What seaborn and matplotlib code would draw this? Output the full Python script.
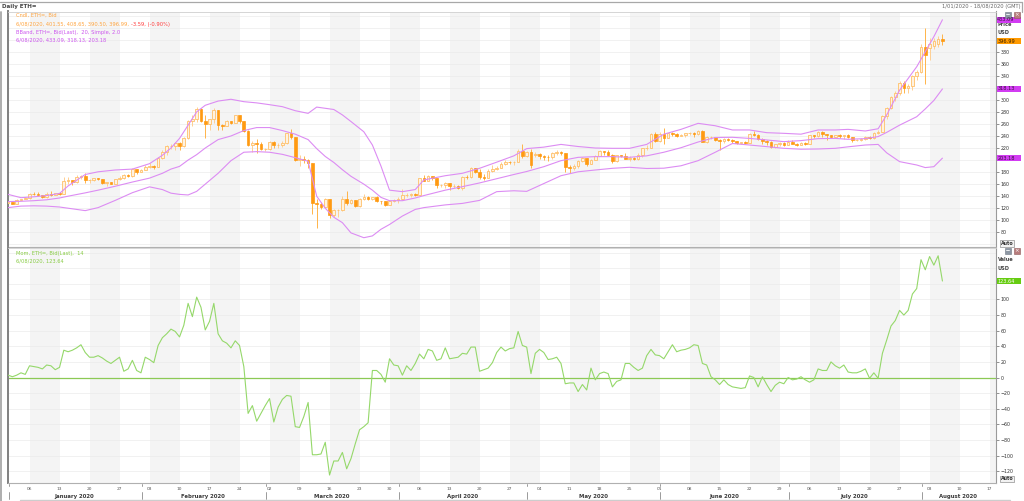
import numpy as np
import matplotlib
matplotlib.use("Agg")
import matplotlib.pyplot as plt
import matplotlib.patches as mpatches
import matplotlib.transforms as mtrans
from matplotlib.lines import Line2D
import seaborn as sns

# ---------------- data ----------------
open_ = [
    # Jan
    129.2, 130.8, 127.4, 134.2, 135.1, 136.3, 144.3, 143.5, 141.3, 138.0, 143.9, 142.2, 145.4, 144.0, 165.2, 166.3,
    163.8, 171.2, 174.0, 166.6, 166.7, 169.4, 168.0, 162.4, 162.8, 160.9, 167.9, 170.0, 175.3, 174.1, 184.7,
    # Feb
    179.9, 183.6, 188.6, 189.9, 189.0, 203.8, 212.7, 223.0, 223.4, 228.6, 222.9, 236.7, 265.2, 268.4, 285.3,
    264.9, 260.0, 267.6, 282.9, 258.8, 256.0, 265.5, 262.0, 274.4, 265.4, 248.0, 225.3, 227.6, 226.2,
    # Mar
    218.3, 218.3, 230.3, 224.5, 224.5, 228.0, 244.2, 237.7, 199.5, 202.3, 200.7, 194.8, 129.0, 127.0, 122.0,
    135.0, 108.0, 117.0, 117.3, 136.0, 128.0, 132.9, 123.0, 135.7, 138.8, 136.0, 138.9, 131.6, 131.5, 125.2, 132.4,
    # Apr
    133.6, 136.0, 141.6, 141.9, 144.1, 142.5, 169.7, 164.6, 173.2, 170.1, 158.0, 158.4, 161.1, 156.3, 157.6,
    153.3, 172.2, 171.6, 187.0, 180.6, 171.3, 171.0, 182.4, 185.0, 187.3, 194.2, 197.2, 196.6, 197.1, 215.5,
    # May
    206.6, 212.7, 208.5, 210.3, 206.8, 205.2, 204.4, 212.3, 212.6, 211.6, 188.4, 186.0, 190.2, 199.0, 203.0,
    194.0, 200.6, 207.1, 214.3, 214.0, 208.9, 198.2, 208.1, 206.8, 201.8, 204.1, 201.2, 208.6, 219.6, 220.0, 243.6,
    # Jun
    231.1, 243.5, 237.2, 244.4, 243.9, 240.7, 241.6, 244.2, 244.9, 243.3, 248.6, 230.1, 237.8, 238.2, 233.9,
    231.0, 235.6, 233.4, 231.0, 227.6, 229.7, 228.4, 243.1, 242.1, 235.5, 232.3, 229.2, 221.7, 226.0, 228.1,
    # Jul
    225.7, 229.2, 226.5, 225.0, 229.1, 227.5, 241.0, 239.2, 246.7, 242.5, 241.7, 239.0, 241.6, 239.8, 241.6,
    238.8, 232.9, 233.4, 235.8, 238.9, 236.1, 245.5, 247.0, 273.35, 287.0, 305.0, 311.0, 328.0, 320.0, 323.0, 339.0,
    # Aug
    346.0, 387.0, 386.0, 390.0, 392.0, 401.55,
]
high = [
    132.5, 130.9, 134.6, 136.0, 138.7, 144.9, 147.4, 146.5, 141.4, 146.2, 148.5, 146.0, 146.5, 171.7, 171.9, 167.3,
    174.8, 175.0, 178.0, 168.0, 169.8, 171.0, 168.5, 164.0, 163.4, 168.1, 172.8, 176.5, 177.0, 187.5, 185.5,
    184.9, 191.0, 194.5, 191.7, 205.0, 216.3, 225.0, 226.5, 229.5, 229.9, 238.6, 266.5, 275.3, 287.4, 287.0,
    275.0, 268.5, 285.8, 283.2, 260.7, 266.1, 265.7, 275.5, 275.6, 265.6, 249.5, 231.7, 234.3, 229.2,
    220.6, 232.1, 231.9, 227.9, 232.2, 244.9, 251.9, 237.8, 208.5, 206.2, 201.1, 195.6, 136.0, 129.5, 137.0,
    135.5, 119.2, 118.7, 140.5, 149.0, 135.2, 134.4, 137.2, 142.8, 140.4, 139.3, 140.0, 132.6, 132.8, 132.8, 135.5,
    139.2, 151.6, 145.4, 144.9, 144.9, 170.2, 175.5, 174.7, 173.5, 171.0, 160.6, 164.0, 161.2, 160.3, 158.8,
    173.9, 175.3, 188.6, 187.4, 185.2, 176.6, 184.9, 192.3, 190.2, 196.3, 199.7, 198.3, 199.0, 218.5, 227.5,
    215.0, 218.0, 214.0, 211.5, 208.7, 208.6, 214.0, 216.0, 215.3, 212.0, 192.0, 193.9, 200.2, 205.6, 203.5,
    201.5, 208.2, 216.3, 215.0, 217.0, 209.3, 208.9, 209.2, 211.3, 206.1, 204.7, 211.2, 220.5, 225.0, 244.3, 247.2,
    246.0, 253.0, 245.4, 246.5, 245.7, 243.0, 245.1, 246.7, 246.5, 250.0, 249.4, 240.2, 239.2, 238.6, 234.4,
    237.0, 236.0, 235.1, 232.0, 230.3, 231.0, 245.0, 248.5, 243.6, 236.4, 232.5, 231.0, 227.0, 230.4, 229.5,
    233.0, 233.0, 228.0, 229.7, 229.3, 242.4, 241.6, 248.8, 247.8, 243.0, 241.7, 242.2, 243.2, 242.0, 243.4,
    239.0, 235.4, 237.2, 240.4, 239.8, 247.0, 250.0, 275.3, 288.5, 307.0, 314.0, 331.0, 332.0, 327.0, 341.0, 350.0,
    392.0, 420.0, 402.0, 403.0, 406.0, 408.65,
]
low = [
    128.8, 126.2, 126.7, 133.0, 134.6, 135.9, 142.3, 139.5, 137.0, 136.7, 141.0, 141.4, 142.2, 143.8, 159.4, 157.8,
    162.1, 168.0, 161.8, 162.5, 164.5, 166.3, 159.4, 156.7, 159.9, 160.5, 166.7, 168.2, 171.3, 172.0, 176.3,
    179.4, 182.9, 186.2, 185.5, 188.5, 201.5, 209.0, 218.0, 216.4, 217.3, 221.0, 235.8, 256.9, 263.6, 262.8,
    237.3, 249.4, 261.0, 250.2, 249.6, 255.8, 259.2, 261.4, 261.3, 246.6, 223.3, 213.9, 211.5, 217.1,
    214.5, 216.4, 220.7, 219.9, 222.1, 227.4, 234.3, 198.0, 190.2, 195.9, 186.2, 110.0, 87.0, 119.0, 120.5,
    103.0, 105.5, 106.1, 115.0, 126.0, 127.0, 121.9, 121.3, 133.2, 133.4, 133.1, 129.5, 127.0, 124.4, 124.6, 130.9,
    129.0, 134.2, 139.2, 139.4, 140.7, 142.4, 164.4, 164.6, 167.0, 153.7, 155.2, 153.0, 150.5, 154.0, 152.0,
    150.2, 167.9, 170.8, 178.5, 168.5, 166.6, 170.4, 179.5, 183.3, 186.6, 191.9, 192.8, 191.6, 196.0, 203.0,
    205.3, 186.0, 205.0, 201.0, 200.6, 199.0, 202.0, 208.0, 209.2, 180.0, 178.0, 184.2, 186.9, 196.0, 190.0,
    193.6, 199.3, 206.4, 209.0, 207.1, 195.4, 197.1, 205.2, 201.1, 198.9, 199.5, 199.9, 205.2, 217.0, 219.6, 229.9,
    230.5, 226.0, 236.8, 240.0, 239.1, 239.5, 237.7, 241.9, 238.0, 242.2, 229.3, 228.0, 235.1, 231.2, 216.0,
    228.0, 231.2, 228.4, 226.0, 227.0, 226.5, 228.0, 240.3, 233.0, 226.3, 225.5, 219.9, 220.3, 223.1, 223.7,
    224.5, 226.0, 223.4, 224.7, 224.2, 227.3, 237.0, 238.6, 238.7, 233.4, 237.4, 237.1, 237.1, 235.6, 236.7,
    229.6, 230.9, 231.2, 233.7, 235.0, 235.8, 243.0, 246.0, 268.0, 284.0, 298.0, 308.0, 312.0, 312.0, 317.0, 333.0,
    344.0, 327.0, 367.0, 385.0, 388.0, 390.50,
]
close = [
    130.8, 127.4, 134.2, 135.1, 136.3, 144.3, 143.5, 141.3, 138.0, 143.9, 142.2, 145.4, 144.0, 165.2, 166.3, 163.8,
    171.2, 174.0, 166.6, 166.7, 169.4, 168.0, 162.4, 162.8, 160.9, 167.9, 170.0, 175.3, 174.1, 184.7, 179.9,
    183.6, 188.6, 189.9, 189.0, 203.8, 212.7, 223.0, 223.4, 228.6, 222.9, 236.7, 265.2, 268.4, 285.3, 264.9,
    260.0, 267.6, 282.9, 258.8, 256.0, 265.5, 262.0, 274.4, 265.4, 248.0, 225.3, 227.6, 226.2, 218.3,
    218.3, 230.3, 224.5, 224.5, 228.0, 244.2, 237.7, 199.5, 202.3, 200.7, 194.8, 129.0, 127.0, 122.0, 135.0,
    108.0, 117.0, 117.3, 136.0, 128.0, 132.9, 123.0, 135.7, 138.8, 136.0, 138.9, 131.6, 131.5, 125.2, 132.4, 133.6,
    136.0, 141.6, 141.9, 144.1, 142.5, 169.7, 164.6, 173.2, 170.1, 158.0, 158.4, 161.1, 156.3, 157.6, 153.3,
    172.2, 171.6, 187.0, 180.6, 171.3, 171.0, 182.4, 185.0, 187.3, 194.2, 197.2, 196.6, 197.1, 215.5, 206.6,
    212.7, 192.0, 210.3, 206.8, 205.2, 204.4, 212.3, 212.6, 211.6, 188.4, 186.0, 190.2, 199.0, 203.0, 194.0,
    200.6, 207.1, 214.3, 214.0, 208.9, 198.2, 208.1, 206.8, 201.8, 204.1, 201.2, 208.6, 219.6, 220.0, 243.6, 231.1,
    243.5, 237.2, 244.4, 243.9, 240.7, 241.6, 244.2, 244.9, 243.3, 248.6, 230.1, 237.8, 238.2, 233.9, 231.0,
    235.6, 233.4, 231.0, 227.6, 229.7, 228.4, 243.1, 242.1, 235.5, 232.3, 229.2, 221.7, 226.0, 228.1, 225.7,
    229.2, 226.5, 225.0, 229.1, 227.5, 241.0, 239.2, 246.7, 242.5, 241.7, 239.0, 241.6, 239.8, 241.6, 238.8,
    232.9, 233.4, 235.8, 238.9, 236.1, 245.5, 247.0, 273.35, 287.0, 305.0, 311.0, 328.0, 320.0, 323.0, 339.0, 346.0,
    387.0, 374.0, 392.0, 398.0, 401.55, 396.99,
]

# Bollinger band (20, 2.0) read at sampled days (days since 1 Jan 2020)
band_days = [0, 3, 6, 9, 12, 14, 18, 21, 25, 29, 33, 36, 38, 40, 42, 44, 46, 49, 52, 55, 58, 61, 64, 67, 70,
             72, 74, 76, 78, 80, 83, 85, 87, 89, 92, 95, 97, 102, 106, 110, 114, 118, 121, 125, 129, 133,
             137, 141, 145, 149, 153, 157, 161, 165, 169, 173, 177, 181, 185, 189, 193, 196, 200, 203, 205,
             208, 212, 214, 216, 218]
band_upper = [143, 137.5, 139, 141, 144.5, 157, 176, 180.5, 183.5, 185, 194, 208, 220, 236, 258, 280, 291, 298,
              301, 297, 295, 292, 288.7, 282, 277.6, 288, 286, 284, 275, 264, 247, 225, 190, 150, 147.5, 151,
              167, 174, 178, 186.3, 196.5, 207, 219, 221.5, 226, 222.5, 220, 219.5, 219.5, 226, 243, 251, 261,
              257, 250, 250, 245.5, 244.4, 243, 250, 250, 251, 248.3, 252, 275, 316, 355, 380, 405, 433.09]
band_mid = [131, 131.5, 132.5, 134, 137, 140, 145.5, 150, 156.5, 163.5, 170, 178, 185, 189.5, 200, 209, 220, 234,
            240, 249, 254, 254, 249, 243, 234, 219, 206, 196, 184, 173, 160, 150, 138, 132.5, 132.5, 137, 141,
            150, 155.8, 162, 169, 176, 181, 189, 199, 204.5, 205.7, 205.7, 204.6, 207, 213, 220.5, 230, 237.5,
            237.8, 236, 233.4, 230.6, 232.3, 235.6, 236, 234.5, 235.6, 239, 246, 258, 272, 285, 299, 318.13]
band_lower = [121, 123.5, 124, 123.5, 122, 120, 116, 121, 133, 145.8, 155.5, 151, 145, 143, 142, 148, 160, 178,
              199, 213, 214, 213, 209.5, 204, 198, 140, 120, 105, 96, 79, 71, 74, 85, 93, 107, 118, 121, 125.5,
              128, 133, 147.5, 149, 148, 161, 174, 180.5, 183.5, 186.3, 188, 186, 186.5, 190.5, 199, 213, 227.5,
              225, 222.3, 219.5, 218, 218.4, 219.5, 222, 225, 226, 212, 197.4, 191.8, 187.5, 189, 203.18]

# Momentum (14), one value per day
momentum = [
    3, 1, 3, 6, 4, 15, 14, 13, 11, 16, 15, 10, 13,
    35, 33, 35, 38, 42, 32, 26, 26, 28, 25, 21, 18, 22,
    26, 8, 11, 22, 9, 6, 26, 23, 19, 41, 51, 56, 62,
    59, 52, 67, 95, 78, 103, 90, 61, 72, 95, 56, 47, 44,
    38, 47, 41, 14, -46, -36, -56, -46, -36, -27, -57, -38, -28,
    -23, -24, -63, -64, -50, -32, -99, -99, -98, -83, -125, -107, -107,
    -96, -117, -104, -85, -67, -63, -58, 9, 9, 4, -6, 24, 16,
    15, 3, 15, 9, 18, 30, 24, 36, 34, 22, 24, 38, 24,
    25, 26, 31, 30, 39, 39, 8, 10, 12, 19, 32, 39, 34,
    37, 38, 59, 41, 39, 5, 31, 36, 32, 23, 24, 26, 18,
    -8, -7, -7, -18, -9, -16, 12, -3, 5, 7, 5, -12, -5,
    -3, 18, 18, 13, 9, 12, 28, 36, 29, 28, 24, 33, 42,
    33, 35, 36, 38, 42, 41, 18, 16, 1, -3, -9, -3, -9,
    -12, -13, -14, -13, 2, 0, -12, 1, -9, -18, -10, -6, -8,
    0, -3, -2, 1, -3, -6, -3, 11, 9, 9, 20, 15, 12,
    16, 7, 6, 6, 8, 11, -1, 6, -1, 31, 48, 66, 73,
    86, 80, 86, 107, 114, 151, 138, 155, 144, 156, 123.64,
]

price_ticks = [80, 100, 120, 140, 160, 180, 220, 240, 260, 280, 300, 340, 360, 380]
value_ticks = [-120, -100, -80, -60, -40, -20, 0, 20, 40, 60, 80, 100]
tick_labels = ["06", "13", "20", "27", "03", "10", "17", "24", "02", "09", "16", "23", "30",
               "06", "13", "20", "27", "04", "11", "18", "25", "01", "08", "15", "22", "29",
               "06", "13", "20", "27", "03", "10", "17"]
month_names = ["January 2020", "February 2020", "March 2020", "April 2020", "May 2020",
               "June 2020", "July 2020", "August 2020"]
month_start = [0, 31, 60, 91, 121, 152, 182, 213]

assert len(open_) == len(high) == len(low) == len(close) == len(momentum) == 219
assert len(band_days) == len(band_upper) == len(band_mid) == len(band_lower)

# ---------------- figure ----------------
sns.set_style("white")
plt.rcParams['font.family'] = ['DejaVu Sans']

W, H = 1024, 501
fig = plt.figure(figsize=(W / 100, H / 100), dpi=100)
fig.patch.set_facecolor('white')


def fx(px):
    return px / W


def fy(py):
    return 1 - py / H


L_, R_ = 7.5, 996.0
ax1 = fig.add_axes([fx(L_), fy(246.5), fx(R_) - fx(L_), fy(11.5) - fy(246.5)])
ax2 = fig.add_axes([fx(L_), fy(483.0), fx(R_) - fx(L_), fy(247.5) - fy(483.0)])

XMIN, XMAX = -0.14, 230.5
ax1.set_ylim(56.4, 446.8)
ax2.set_ylim(-135.2, 166.6)

for ax in (ax1, ax2):
    ax.set_xlim(XMIN, XMAX)
    ax.set_facecolor('white')
    for k in range(17):
        a = 5 + 14 * k
        ax.axvspan(a, a + 7, color='#F4F4F4', lw=0, zorder=0)
    ax.set_xticks([])
    ax.spines['left'].set_color('#808080')
    ax.spines['left'].set_linewidth(1.4)
    ax.spines['right'].set_color('#9A9A9A')
    ax.spines['right'].set_linewidth(0.8)
    ax.spines['top'].set_color('#CFCFCF')
    ax.spines['top'].set_linewidth(0.6)
    ax.spines['bottom'].set_color('#B0B0B0')
    ax.spines['bottom'].set_linewidth(0.8)
    ax.yaxis.tick_right()
    ax.tick_params(axis='y', direction='out', length=2.2, width=0.5, colors='#666666',
                   labelsize=3.4, pad=1.0, labelcolor='#333333')

for v in range(60, 441, 20):
    ax1.axhline(v, color='#EBEBEB', lw=0.5, zorder=0.5)
for v in range(-120, 161, 20):
    ax2.axhline(v, color='#EBEBEB', lw=0.5, zorder=0.5)

ax1.set_yticks(price_ticks)
ax2.set_yticks(value_ticks)

# ---- candles ----
days = np.arange(len(close))
o = np.array(open_)
c = np.array(close)
h = np.array(high)
lo = np.array(low)
up = c >= o
bb = np.minimum(o, c)
bh = np.maximum(np.abs(c - o), 0.7)
ax1.vlines(days[up], lo[up], h[up], color='#FFCF92', lw=0.7, zorder=3)
ax1.vlines(days[~up], lo[~up], h[~up], color='#FFB449', lw=0.7, zorder=3)
ax1.bar(days[up], bh[up], bottom=bb[up], width=0.62, facecolor='#FFF2E0',
        edgecolor='#FFC06A', linewidth=0.6, zorder=4)
ax1.bar(days[~up], bh[~up], bottom=bb[~up], width=0.62, facecolor='#FF9A12',
        edgecolor='#FF9A12', linewidth=0.5, zorder=4)

# ---- bollinger bands ----
band_col = '#DC8CF3'
for series in (band_upper, band_mid, band_lower):
    sns.lineplot(x=band_days, y=series, ax=ax1, color=band_col, linewidth=0.8, zorder=5)

# ---- momentum ----
ax2.axhline(0, color='#8CC955', lw=0.9, zorder=2)
sns.lineplot(x=days, y=momentum, ax=ax2, color='#95D86A', linewidth=0.8, zorder=3)

for ax in (ax1, ax2):
    ax.set_xlabel('')
    ax.set_ylabel('')
    ax.set_xlim(XMIN, XMAX)

# ---------------- texts ----------------
fig.text(fx(2.0), fy(6.8), 'Daily ETH=', fontsize=4.0, fontweight='bold', color='#444444', va='center')
fig.text(fx(1020.5), fy(6.8), '1/01/2020 - 18/08/2020 (GMT)', fontsize=3.7, color='#666666',
         va='center', ha='right')

orange = '#FFA540'
purple = '#CC55EE'
green = '#88CC44'
fs_leg = 3.7
fig.text(fx(16), fy(15.7), 'Cndl, ETH=, Bid', color=orange, fontsize=fs_leg, va='center')
t2 = fig.text(fx(16), fy(24.5), '6/08/2020, 401.55, 408.65, 390.50, 396.99, ', color=orange,
              fontsize=fs_leg, va='center')
fig.text(fx(16), fy(32.3), 'BBand, ETH=, Bid(Last),  20, Simple, 2.0', color=purple, fontsize=fs_leg, va='center')
fig.text(fx(16), fy(39.8), '6/08/2020, 433.09, 318.13, 203.18', color=purple, fontsize=fs_leg, va='center')
fig.text(fx(16), fy(253.3), 'Mom, ETH=, Bid(Last),  14', color=green, fontsize=fs_leg, va='center')
fig.text(fx(16), fy(260.8), '6/08/2020, 123.64', color=green, fontsize=fs_leg, va='center')

fig.canvas.draw()
ext = t2.get_window_extent()
fig.text(ext.x1 / fig.bbox.width, fy(24.5), '-3.59, (-0.90%)', color='#FF3B3B', fontsize=fs_leg, va='center')

# axis captions
fig.text(fx(998), fy(24.5), 'Price', fontsize=3.6, fontweight='bold', color='#444444', va='center')
fig.text(fx(998), fy(32.2), 'USD', fontsize=3.6, fontweight='bold', color='#444444', va='center')
fig.text(fx(998), fy(259.8), 'Value', fontsize=3.6, fontweight='bold', color='#444444', va='center')
fig.text(fx(998), fy(268.2), 'USD', fontsize=3.6, fontweight='bold', color='#444444', va='center')


def yfig(ax, val):
    return ax.transData.transform((0, val))[1] / fig.bbox.height


def value_box(ax, val, txt, fc, tc):
    yc = yfig(ax, val)
    hh = 6.0 / H
    rect = mpatches.Rectangle((fx(996.6), yc - hh / 2), fx(1020.5) - fx(996.6), hh,
                              transform=fig.transFigure, facecolor=fc, edgecolor='none', zorder=5)
    fig.patches.append(rect)
    fig.text(fx(997.2), yc, txt, color=tc, fontsize=3.6, va='center', ha='left', zorder=6)


value_box(ax1, band_upper[-1], '433.09', '#D23CF2', '#3A1040')
value_box(ax1, close[-1], '396.99', '#FF9A00', '#3A2000')
value_box(ax1, band_mid[-1], '318.13', '#D23CF2', '#3A1040')
value_box(ax1, band_lower[-1], '203.18', '#D23CF2', '#3A1040')
value_box(ax2, momentum[-1], '123.64', '#66CC11', 'white')

# Auto buttons
for ypx in (243.3, 479.0):
    fig.text(fx(1000.5), fy(ypx), 'Auto', fontsize=3.4, fontweight='bold', color='#333333', va='center',
             bbox=dict(boxstyle='square,pad=0.15', fc='#F2F2F2', ec='#777777', lw=0.4), zorder=6)

# small window icons
for ypx in (12.0, 248.0):
    fig.patches.append(mpatches.Rectangle((fx(1004.5), fy(ypx + 5.5)), 6 / W, 5.5 / H, transform=fig.transFigure,
                                          facecolor='#8E98A4', edgecolor='#6E7884', lw=0.4, zorder=6))
    fig.patches.append(mpatches.Rectangle((fx(1013.5), fy(ypx + 5.5)), 6 / W, 5.5 / H, transform=fig.transFigure,
                                          facecolor='#B87C7C', edgecolor='#8E5A5A', lw=0.4, zorder=6))
    fig.text(fx(1016.5), fy(ypx + 2.9), '×', fontsize=4.0, color='white', ha='center', va='center', zorder=7)
    fig.lines.append(Line2D([fx(1006), fx(1009.2)], [fy(ypx + 1.8), fy(ypx + 1.8)], transform=fig.transFigure,
                            color='white', lw=0.6, zorder=7))

# ---------------- date axis ----------------
bt = mtrans.blended_transform_factory(ax2.transData, fig.transFigure)
mondays = [5 + 7 * i for i in range(len(tick_labels))]
for d, lab in zip(mondays, tick_labels):
    ax2.text(d, fy(488.6), lab, transform=bt, ha='center', va='center', fontsize=3.2,
             color='#555555', clip_on=False)

month_end = month_start[1:] + [XMAX + 100]
for name, s, e in zip(month_names, month_start, month_end):
    cx = (max(s, XMIN) + min(e, XMAX)) / 2
    ax2.text(cx, fy(496.2), name, transform=bt, ha='center', va='center', fontsize=3.9,
             fontweight='bold', color='#3A3A3A', clip_on=False)
    ax2.add_line(Line2D([s + 0.15, s + 0.15], [fy(491.5), fy(499.3)], transform=bt, color='#8A8A8A',
                        lw=0.6, clip_on=False))
    ax2.add_line(Line2D([s + 0.15, s + 0.15], [fy(483.5), fy(485.6)], transform=bt, color='#8A8A8A',
                        lw=0.6, clip_on=False))

# window frame lines
fig.lines.append(Line2D([fx(20), fx(1010)], [fy(499.6), fy(499.6)], transform=fig.transFigure,
                        color='#CDCDCD', lw=1.0))
fig.lines.append(Line2D([fx(0), fx(1022)], [fy(1.5), fy(1.5)], transform=fig.transFigure,
                        color='#A8A8A8', lw=0.9))
fig.lines.append(Line2D([fx(1022), fx(1022)], [fy(1.5), fy(11.5)], transform=fig.transFigure,
                        color='#A8A8A8', lw=0.9))
fig.lines.append(Line2D([fx(0.8), fx(0.8)], [fy(12), fy(501)], transform=fig.transFigure,
                        color='#A8A8A8', lw=1.3))

fig.savefig('out.png', dpi=100)
